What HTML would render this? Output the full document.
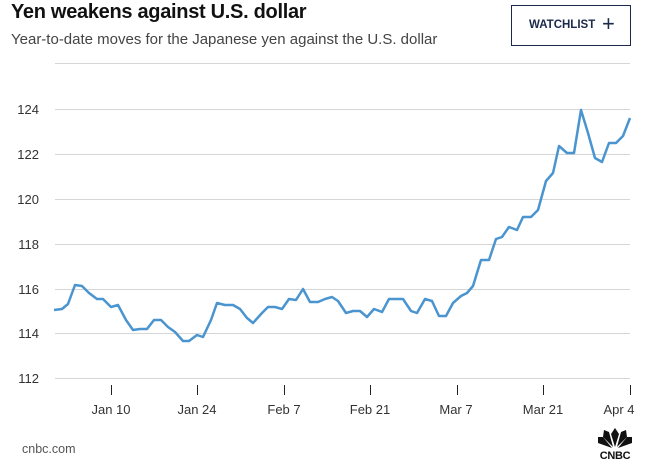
<!DOCTYPE html>
<html><head><style>
body{margin:0;width:651px;height:471px;background:#fff;font-family:"Liberation Sans",sans-serif;position:relative;overflow:hidden}
.t{position:absolute;left:11px;top:1px;font-size:20px;font-weight:bold;color:#111;letter-spacing:-0.3px}
.s{position:absolute;left:11px;top:31px;font-size:15px;color:#444}
.w{position:absolute;left:511px;top:5px;border:1.5px solid #1b2a4a;box-sizing:border-box;width:120px;height:41px}
.w span{position:absolute;left:17px;top:13px;font-size:11.5px;font-weight:bold;color:#1b2a4a}
.w b{position:absolute;left:90px;top:5px;font-size:22px;color:#1b2a4a;font-weight:normal}
</style></head><body>
<div class="t">Yen weakens against U.S. dollar</div>
<div class="s">Year-to-date moves for the Japanese yen against the U.S. dollar</div>
<div class="w"><span>WATCHLIST</span><b>+</b></div>
<svg width="651" height="471" style="position:absolute;left:0;top:0">
<g stroke="#d6d6d6" stroke-width="1">
<line x1="55" x2="630" y1="63.5" y2="63.5"/>
<line x1="55" x2="630" y1="109.5" y2="109.5"/>
<line x1="55" x2="630" y1="154.5" y2="154.5"/>
<line x1="55" x2="630" y1="199.5" y2="199.5"/>
<line x1="55" x2="630" y1="244.5" y2="244.5"/>
<line x1="55" x2="630" y1="289.5" y2="289.5"/>
<line x1="55" x2="630" y1="333.5" y2="333.5"/>
<line x1="55" x2="630" y1="378.5" y2="378.5"/>
</g>
<g font-size="13" fill="#333" text-anchor="end">
<text x="39" y="114">124</text><text x="39" y="159">122</text><text x="39" y="204">120</text>
<text x="39" y="249">118</text><text x="39" y="294">116</text><text x="39" y="338">114</text><text x="39" y="383">112</text>
</g>
<g stroke="#222" stroke-width="1">
<line x1="111.5" x2="111.5" y1="385" y2="395"/><line x1="197.5" x2="197.5" y1="385" y2="395"/>
<line x1="284.5" x2="284.5" y1="385" y2="395"/><line x1="370.5" x2="370.5" y1="385" y2="395"/>
<line x1="457.5" x2="457.5" y1="385" y2="395"/><line x1="543.5" x2="543.5" y1="385" y2="395"/>
<line x1="630.5" x2="630.5" y1="385" y2="395"/>
</g>
<g font-size="13" fill="#333" text-anchor="middle">
<text x="111" y="414">Jan 10</text><text x="197" y="414">Jan 24</text><text x="284" y="414">Feb 7</text>
<text x="370" y="414">Feb 21</text><text x="456" y="414">Mar 7</text><text x="543" y="414">Mar 21</text><text x="619" y="414">Apr 4</text>
</g>
<polyline fill="none" stroke="#4a94cf" stroke-width="2.5" stroke-linejoin="round" points="54,310 62,309 68,304 75,285 82,286 89,293 97,299 103,299 111,307 118,305 126,320 133,330 140,329 147,329 154,320 161,320 168,327 175,332 183,341 189,341 197,335 203,337 211,320 217,303 225,305 233,305 240,309 247,318 253,323 262,313 268,307 275,307 282,309 289,299 296,300 303,289 310,302 318,302 325,299 332,297 338,301 346,313 353,311 360,311 367,317 374,309 382,312 389,299 396,299 403,299 411,311 417,313 425,299 432,301 439,316 446,316 453,303 461,296 467,293 473,286 481,260 489,260 496,239 502,237 509,227 517,230 523,217 531,217 538,210 546,181 553,173 559,146 567,153 574,153 581,110 588,133 595,158 602,162 609,143 616,143 623,136 630,118"/>
<text x="22" y="453" font-size="12.5" fill="#555">cnbc.com</text>
<g fill="#111">
<path d="M615,447 l-4,-13 l4,-6 l4,6z"/>
<path d="M613,447 l-10,-10 l1,-7 l5,2z"/>
<path d="M617,447 l10,-10 l-1,-7 l-5,2z"/>
<path d="M612,448 l-14,-5 l0,-6 l5,0z"/>
<path d="M618,448 l14,-5 l0,-6 l-5,0z"/>
<text x="615" y="459" font-size="11" font-weight="bold" text-anchor="middle" letter-spacing="-0.3">CNBC</text>
</g>
</svg>
</body></html>
